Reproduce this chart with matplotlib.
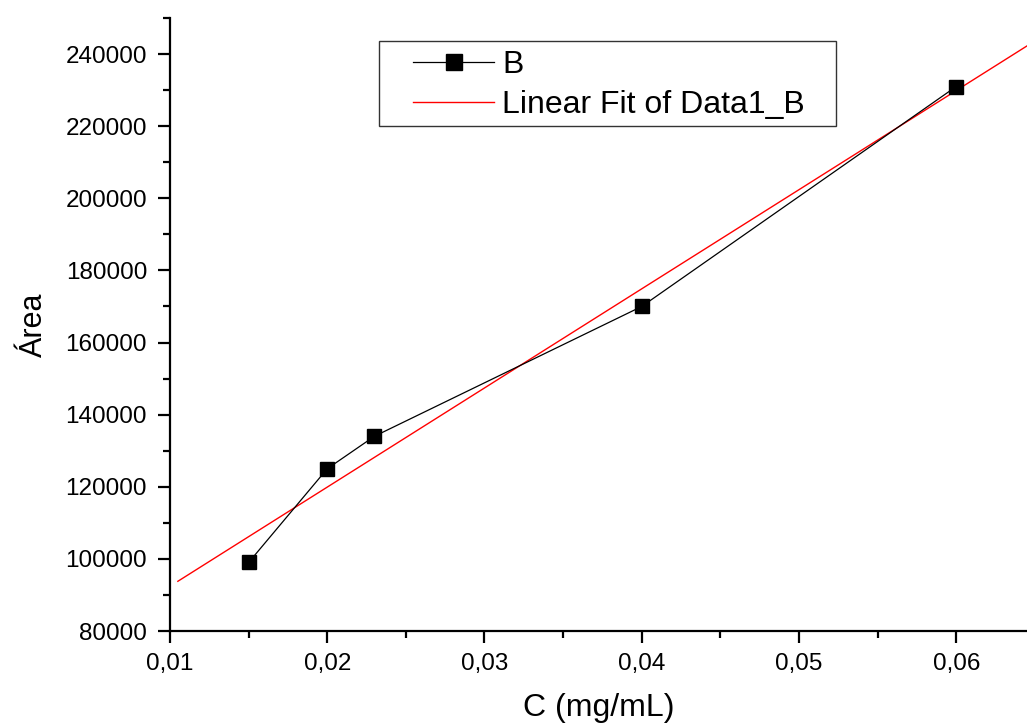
import numpy as np
import matplotlib
matplotlib.use("Agg")
import matplotlib.pyplot as plt
from matplotlib.patches import Rectangle
from matplotlib.ticker import MultipleLocator, FuncFormatter

plt.rcParams['font.family'] = ['Liberation Sans', 'DejaVu Sans']

# data
conc = [0.015, 0.020, 0.023, 0.040, 0.060]
area = [99000, 125000, 134000, 170000, 231000]
fit_x_start = 0.0105
fit_x_end = 0.067

W, H = 1027, 725
fig = plt.figure(figsize=(W / 100, H / 100), dpi=100)
ax = fig.add_axes([170 / W, 1 - 631 / H, 1 - 170 / W, (631 - 18) / H])

# least squares line
slope, intercept = np.polyfit(conc, area, 1)
fx = np.array([fit_x_start, fit_x_end])

ax.plot(conc, area, color='black', lw=0.9, marker='s', markersize=9.5,
        markerfacecolor='black', markeredgecolor='black', label='B', zorder=3)
ax.plot(fx, slope * fx + intercept, color='red', lw=1.0,
        label='Linear Fit of Data1_B', zorder=2)

ax.set_xlim(0.01, 0.0645)
ax.set_ylim(80000, 250000)

ax.xaxis.set_major_locator(MultipleLocator(0.01))
ax.xaxis.set_minor_locator(MultipleLocator(0.005))
ax.yaxis.set_major_locator(MultipleLocator(20000))
ax.yaxis.set_minor_locator(MultipleLocator(10000))
ax.xaxis.set_major_formatter(FuncFormatter(lambda v, p: f"{v:.2f}".replace('.', ',')))
ax.yaxis.set_major_formatter(FuncFormatter(lambda v, p: f"{int(round(v))}"))

for side in ['top', 'right']:
    ax.spines[side].set_visible(False)
for side in ['left', 'bottom']:
    ax.spines[side].set_linewidth(1.6)

ax.tick_params(which='major', direction='out', length=8.5, width=1.6,
               labelsize=17.5)
ax.tick_params(axis='y', which='major', pad=8)
ax.tick_params(axis='x', which='major', pad=7)
ax.tick_params(which='minor', direction='out', length=5, width=1.6)

ax.set_xlabel('C (mg/mL)', fontsize=23, labelpad=13)
ax.set_ylabel('Área', fontsize=22, labelpad=12)

# legend box drawn like Origin's, wide side padding
fig.patches.append(Rectangle((379 / W, 1 - 126 / H), (836 - 379) / W, (126 - 41) / H,
                             transform=fig.transFigure, fill=False,
                             edgecolor='#333333', lw=1.0, zorder=5))
leg = ax.legend(loc='upper left', bbox_to_anchor=(413 / W, 1 - 50 / H),
                bbox_transform=fig.transFigure, fontsize=23, markerscale=1.25,
                handlelength=2.55, handletextpad=0.25, borderpad=0,
                labelspacing=0.32, borderaxespad=0, frameon=False)

fig.savefig('out.png', dpi=100)
